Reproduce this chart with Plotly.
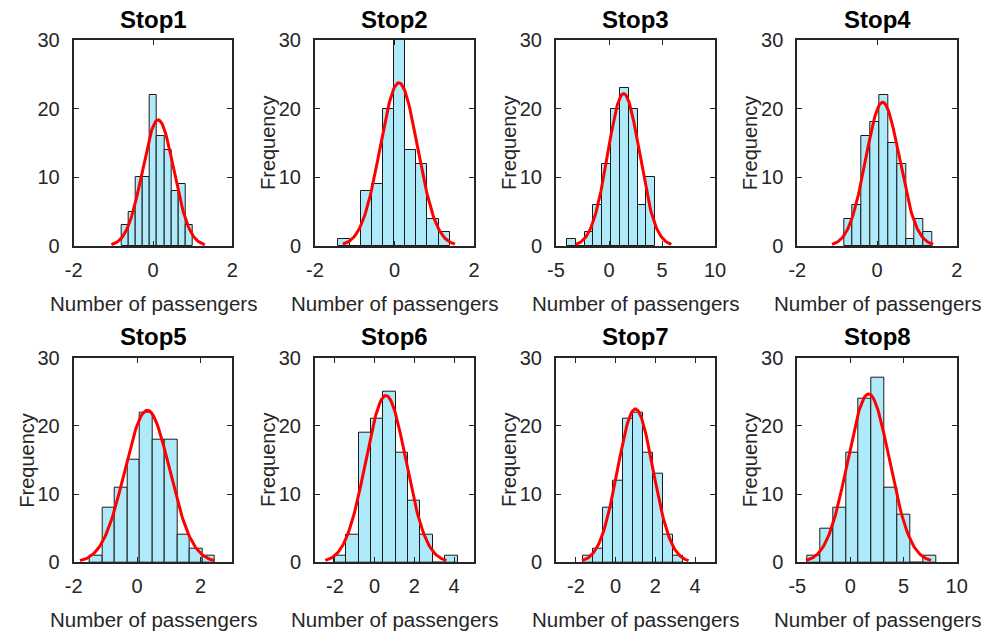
import numpy as np
import plotly.graph_objects as go

# ---------------- data ----------------
stop_names = ["Stop1", "Stop2", "Stop3", "Stop4", "Stop5", "Stop6", "Stop7", "Stop8"]

counts_stop1 = [3, 5, 10, 10, 22, 16, 14, 8, 9, 3]
counts_stop2 = [1, 0, 8, 9, 20, 30, 14, 12, 4, 2]
counts_stop3 = [1, 0, 2, 6, 12, 20, 23, 20, 6, 10]
counts_stop4 = [4, 6, 16, 18, 22, 15, 12, 1, 4, 2]
counts_stop5 = [1, 8, 11, 15, 22, 18, 18, 4, 2, 1]
counts_stop6 = [1, 4, 19, 21, 25, 16, 9, 4, 0, 1]
counts_stop7 = [1, 2, 8, 12, 21, 22, 16, 13, 4, 1]
counts_stop8 = [1, 5, 8, 16, 24, 27, 11, 7, 0, 1]
all_counts = [counts_stop1, counts_stop2, counts_stop3, counts_stop4,
              counts_stop5, counts_stop6, counts_stop7, counts_stop8]

# first bin edge and bin width of each histogram
bin_first_edge = [-0.80, -1.41, -3.97, -0.83, -1.49, -2.05, -1.625, -4.07]
bin_width = [0.181, 0.28, 0.834, 0.222, 0.395, 0.622, 0.503, 1.213]

# fitted normal distribution parameters (histfit)
fit_mu = [0.13, 0.11, 1.38, 0.14, 0.32, 0.565, 0.99, 1.71]
fit_sigma = [0.393, 0.47, 1.50, 0.423, 0.707, 1.015, 0.893, 1.96]

x_ranges = [[-2, 2], [-2, 2], [-5, 10], [-2, 2], [-2, 3], [-3, 5], [-3, 5], [-5, 10]]
x_tickvals = [[-2, 0, 2], [-2, 0, 2], [-5, 0, 5, 10], [-2, 0, 2],
              [-2, 0, 2], [-2, 0, 2, 4], [-2, 0, 2, 4], [-5, 0, 5, 10]]
y_tickvals = [0, 10, 20, 30]
show_ylabel = [False, True, True, True, True, True, True, True]
xlabel_text = "Number of passengers"
ylabel_text = "Frequency"

# ---------------- layout geometry (pixels) ----------------
W, H = 985, 632
col_px = [(73.7, 232.3), (315.0, 474.0), (556.0, 715.0), (797.3, 956.7)]
row_px = [(40.0, 246.0), (357.7, 562.3)]

TEXT = "#262626"
FONT = "Liberation Sans, Arial, sans-serif"
BAR_FILL = "#AEEAF9"

fig = go.Figure()
annotations = []
layout_axes = {}

for i in range(8):
    r, c = divmod(i, 4)
    idx = i + 1
    xa = "x" if idx == 1 else f"x{idx}"
    ya = "y" if idx == 1 else f"y{idx}"
    counts = all_counts[i]
    n = len(counts)
    w = bin_width[i]
    centers = [bin_first_edge[i] + w * (k + 0.5) for k in range(n)]

    fig.add_trace(go.Bar(
        x=centers, y=counts, width=[w] * n,
        marker=dict(color=BAR_FILL, line=dict(color="#1a1a1a", width=1)),
        xaxis=xa, yaxis=ya, showlegend=False, hoverinfo="x+y",
    ))

    mu, sg = fit_mu[i], fit_sigma[i]
    total = sum(counts)
    xs = np.linspace(mu - 3 * sg, mu + 3 * sg, 120)
    ys = total * w * np.exp(-0.5 * ((xs - mu) / sg) ** 2) / (sg * np.sqrt(2 * np.pi))
    fig.add_trace(go.Scatter(
        x=xs, y=ys, mode="lines", line=dict(color="#FF0000", width=3),
        xaxis=xa, yaxis=ya, showlegend=False, hoverinfo="skip",
    ))

    x0, x1 = col_px[c]
    top, bot = row_px[r]
    xdom = [x0 / W, x1 / W]
    ydom = [1 - bot / H, 1 - top / H]
    common = dict(
        showline=True, linecolor=TEXT, linewidth=2, mirror="allticks",
        ticks="inside", ticklen=5, tickwidth=1, tickcolor=TEXT,
        showgrid=False, zeroline=False, automargin=False,
        tickfont=dict(family=FONT, size=20, color=TEXT),
    )
    layout_axes["xaxis" if idx == 1 else f"xaxis{idx}"] = dict(
        domain=xdom, anchor=ya, range=x_ranges[i], tickvals=x_tickvals[i],
        ticktext=[str(v) for v in x_tickvals[i]],
        ticklabelstandoff=5, **common)
    layout_axes["yaxis" if idx == 1 else f"yaxis{idx}"] = dict(
        domain=ydom, anchor=xa, range=[0, 30], tickvals=y_tickvals,
        ticktext=[str(v) for v in y_tickvals],
        ticklabelstandoff=8, **common)

    xc = (x0 + x1) / 2
    # title
    annotations.append(dict(
        text=f"<b>{stop_names[i]}</b>", x=xc / W, y=1 - (top - 21.0) / H,
        xref="paper", yref="paper", xanchor="center", yanchor="middle",
        showarrow=False, font=dict(family=FONT, size=24, color="#000000")))
    # x label
    annotations.append(dict(
        text=xlabel_text, x=xc / W, y=1 - (bot + 57) / H,
        xref="paper", yref="paper", xanchor="center", yanchor="middle",
        showarrow=False, font=dict(family=FONT, size=20.5, color=TEXT)))
    # y label
    if show_ylabel[i]:
        annotations.append(dict(
            text=ylabel_text, x=(x0 - 47) / W, y=1 - ((top + bot) / 2) / H,
            xref="paper", yref="paper", xanchor="center", yanchor="middle",
            textangle=-90, showarrow=False,
            font=dict(family=FONT, size=20, color=TEXT)))

fig.update_layout(
    width=W, height=H,
    margin=dict(l=0, r=0, t=0, b=0, autoexpand=False),
    paper_bgcolor="white", plot_bgcolor="white",
    bargap=0, annotations=annotations,
    **layout_axes,
)

fig.write_html("out.html")
